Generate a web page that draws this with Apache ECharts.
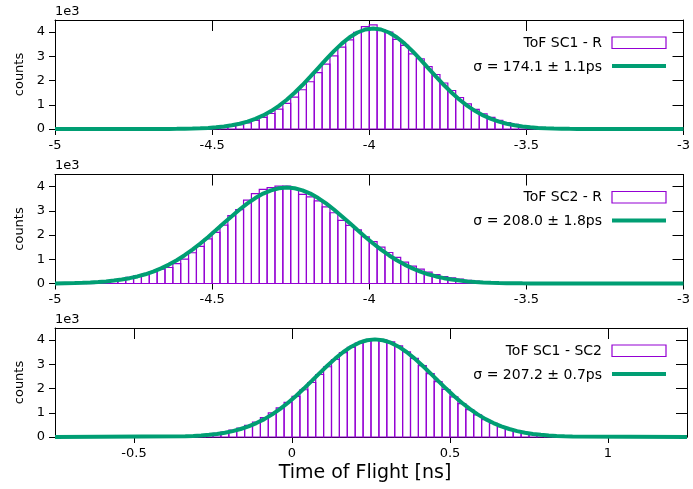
<!DOCTYPE html>
<html><head><meta charset="utf-8">
<script src="https://cdn.jsdelivr.net/npm/echarts@6/dist/echarts.min.js"></script>
<style>html,body{margin:0;padding:0;background:#fff}#c{width:693px;height:489px}</style>
</head><body><div id="c"></div>
<script>
// ---- data ----
const binWidth = 0.025;

const p1Edges = [-4.650,-4.625,-4.600,-4.575,-4.550,-4.525,-4.500,-4.475,-4.450,-4.425,-4.400,-4.375,-4.350,-4.325,-4.300,-4.275,-4.250,-4.225,-4.200,-4.175,-4.150,-4.125,-4.100,-4.075,-4.050,-4.025,-4.000,-3.975,-3.950,-3.925,-3.900,-3.875,-3.850,-3.825,-3.800,-3.775,-3.750,-3.725,-3.700,-3.675,-3.650,-3.625,-3.600,-3.575,-3.550,-3.525,-3.500,-3.475,-3.450,-3.425,-3.400,-3.375,-3.350];
const p1Counts = [3,5,9,14,22,35,55,85,125,180,255,350,480,640,820,1060,1320,1620,1950,2330,2680,3020,3380,3680,3990,4230,4300,4100,4000,3700,3450,3100,2900,2580,2250,1900,1590,1300,1040,810,630,480,360,265,190,135,95,65,44,30,20,12,8];
const p1Fit = [4,7,12,19,30,46,70,104,152,217,305,418,562,740,955,1207,1496,1816,2160,2517,2874,3215,3525,3786,3984,4108,4150,4108,3984,3786,3525,3215,2874,2517,2160,1816,1496,1207,955,740,562,418,305,217,152,104,70,46,30,19,12,7,4];

const p2Edges = [-4.950,-4.925,-4.900,-4.875,-4.850,-4.825,-4.800,-4.775,-4.750,-4.725,-4.700,-4.675,-4.650,-4.625,-4.600,-4.575,-4.550,-4.525,-4.500,-4.475,-4.450,-4.425,-4.400,-4.375,-4.350,-4.325,-4.300,-4.275,-4.250,-4.225,-4.200,-4.175,-4.150,-4.125,-4.100,-4.075,-4.050,-4.025,-4.000,-3.975,-3.950,-3.925,-3.900,-3.875,-3.850,-3.825,-3.800,-3.775,-3.750,-3.725,-3.700,-3.675,-3.650,-3.625,-3.600,-3.575,-3.550,-3.525,-3.500];
const p2Counts = [20,28,40,55,75,110,190,250,320,380,490,590,660,820,1010,1270,1530,1840,2110,2410,2800,3050,3440,3710,3890,3960,4020,4020,3920,3680,3580,3410,3160,2920,2610,2400,2220,1930,1730,1500,1280,1080,880,720,590,470,370,290,230,180,135,100,72,52,40,30,20,15,10];
const p2Fit = [20,30,43,62,87,120,164,220,292,381,491,623,780,961,1168,1399,1653,1923,2206,2494,2780,3054,3306,3528,3711,3847,3931,3960,3931,3847,3711,3528,3306,3054,2780,2494,2206,1923,1653,1399,1168,961,780,623,491,381,292,220,164,120,87,62,43,30,20,14,9,6,4];

const p3Edges = [-0.350,-0.325,-0.300,-0.275,-0.250,-0.225,-0.200,-0.175,-0.150,-0.125,-0.100,-0.075,-0.050,-0.025,0.000,0.025,0.050,0.075,0.100,0.125,0.150,0.175,0.200,0.225,0.250,0.275,0.300,0.325,0.350,0.375,0.400,0.425,0.450,0.475,0.500,0.525,0.550,0.575,0.600,0.625,0.650,0.675,0.700,0.725,0.750,0.775,0.800,0.825,0.850,0.875];
const p3Counts = [30,45,70,100,150,200,280,370,480,620,800,1000,1200,1430,1680,1950,2250,2580,2900,3200,3480,3700,3880,3990,4050,4010,3930,3760,3520,3250,2950,2620,2290,1960,1660,1380,1130,910,720,560,430,330,250,185,135,95,65,45,30,20];
const p3Fit = [28,41,61,89,126,177,244,330,439,575,739,933,1159,1414,1696,1999,2316,2637,2951,3246,3509,3728,3893,3995,4030,3995,3893,3728,3509,3246,2951,2637,2316,1999,1696,1414,1159,933,739,575,439,330,244,177,126,89,61,41,28,18];

const xRanges = [[-5, -3], [-5, -3], [-0.75, 1.25]];
const xTicks = [[-5, -4.5, -4, -3.5, -3], [-5, -4.5, -4, -3.5, -3], [-0.5, 0, 0.5, 1]];
const yTicks = [0, 1000, 2000, 3000, 4000];
const yMax = 4500;
const histLabels = ['ToF SC1 - R', 'ToF SC2 - R', 'ToF SC1 - SC2'];
const fitLabels = ['σ = 174.1 ± 1.1ps', 'σ = 208.0 ± 1.8ps', 'σ = 207.2 ± 0.7ps'];
const xTitle = 'Time of Flight [ns]';
const yTitle = 'counts';
const yUnit = '1e3';

// ---- layout / style ----
const panels = [
  {edges: p1Edges, counts: p1Counts, fit: p1Fit},
  {edges: p2Edges, counts: p2Counts, fit: p2Fit},
  {edges: p3Edges, counts: p3Counts, fit: p3Fit}
];
const gridTops = [20, 174.5, 328];
const gridH = 109, gridL = 55, gridW = 632;
const FONT = 'DejaVu Sans';
const PURPLE = '#9400D3', GREEN = '#009E73';

const grid = [], xAxis = [], yAxis = [], series = [], graphic = [];
panels.forEach((p, k) => {
  grid.push({left: gridL, top: gridTops[k], width: gridW, height: gridH, containLabel: false});
  const [xmin, xmax] = xRanges[k];
  const lineStyle = {color: '#000', width: 1};
  xAxis.push({
    type: 'value', gridIndex: k, min: xmin, max: xmax, position: 'bottom',
    axisLine: {show: true, onZero: false, lineStyle},
    axisTick: {show: true, inside: false, length: 6, customValues: xTicks[k], lineStyle},
    axisLabel: {show: true, customValues: xTicks[k], formatter: v => String(v), margin: 10,
      color: '#000', fontFamily: FONT, fontSize: 13},
    splitLine: {show: false},
    name: k === 2 ? xTitle : '', nameLocation: 'middle', nameGap: 27,
    nameTextStyle: {fontFamily: FONT, fontSize: 19, color: '#000', padding: [0, 12, 0, 0]}
  });
  xAxis.push({
    type: 'value', gridIndex: k, min: xmin, max: xmax, position: 'top',
    axisLine: {show: true, onZero: false, lineStyle},
    axisTick: {show: true, inside: true, length: 11, customValues: xTicks[k], lineStyle},
    axisLabel: {show: false}, splitLine: {show: false}
  });
  yAxis.push({
    type: 'value', gridIndex: k, min: 0, max: yMax, position: 'left',
    axisLine: {show: true, onZero: false, lineStyle},
    axisTick: {show: true, inside: false, length: 6, customValues: yTicks, lineStyle},
    axisLabel: {show: true, customValues: yTicks, formatter: v => String(v / 1000), margin: 10,
      color: '#000', fontFamily: FONT, fontSize: 13},
    splitLine: {show: false},
    name: yTitle, nameLocation: 'middle', nameGap: 29,
    nameTextStyle: {fontFamily: FONT, fontSize: 13, color: '#000'}
  });
  yAxis.push({
    type: 'value', gridIndex: k, min: 0, max: yMax, position: 'right',
    axisLine: {show: true, onZero: false, lineStyle},
    axisTick: {show: true, inside: true, length: 11, customValues: yTicks, lineStyle},
    axisLabel: {show: false}, splitLine: {show: false}
  });
  yAxis.push({
    type: 'value', gridIndex: k, min: 0, max: yMax, position: 'left',
    axisLine: {show: false, onZero: false}, axisTick: {show: false}, axisLabel: {show: false}, splitLine: {show: false},
    name: yUnit, nameLocation: 'end', nameGap: 2,
    nameTextStyle: {fontFamily: FONT, fontSize: 13, color: '#000', align: 'left', verticalAlign: 'bottom'}
  });

  series.push({
    type: 'custom', name: histLabels[k], xAxisIndex: 2 * k, yAxisIndex: 3 * k,
    data: p.edges.map((e, i) => [e, p.counts[i]]),
    renderItem: (params, api) => {
      const x0 = api.value(0), y = api.value(1);
      const a = api.coord([x0, 0]);
      const b = api.coord([x0 + binWidth, y]);
      return {type: 'rect', shape: {x: a[0], y: b[1], width: b[0] - a[0], height: a[1] - b[1]},
        style: {fill: 'none', stroke: PURPLE, lineWidth: 1.2}};
    },
    z: 2
  });
  series.push({
    type: 'line', name: fitLabels[k], xAxisIndex: 2 * k, yAxisIndex: 3 * k,
    data: [[xmin, 0]].concat(p.edges.map((e, i) => [e + binWidth / 2, p.fit[i]])).concat([[xmax, 0]]),
    showSymbol: false, symbol: 'none', clip: false,
    lineStyle: {color: GREEN, width: 4}, z: 3
  });

  const T = gridTops[k];
  graphic.push({type: 'text', x: 602, y: T + 23, style: {text: histLabels[k], align: 'right', verticalAlign: 'middle',
    font: '14px "DejaVu Sans"', fill: '#000'}});
  graphic.push({type: 'rect', shape: {x: 612, y: T + 17, width: 54, height: 11.5},
    style: {fill: '#fff', stroke: PURPLE, lineWidth: 1.2}});
  graphic.push({type: 'text', x: 602, y: T + 47, style: {text: fitLabels[k], align: 'right', verticalAlign: 'middle',
    font: '14px "DejaVu Sans"', fill: '#000'}});
  graphic.push({type: 'line', shape: {x1: 612, y1: T + 46, x2: 666, y2: T + 46},
    style: {stroke: GREEN, lineWidth: 4}});
});

const chart = echarts.init(document.getElementById('c'), null, {renderer: 'canvas'});
chart.setOption({
  animation: false,
  backgroundColor: '#fff',
  textStyle: {fontFamily: FONT, color: '#000'},
  grid, xAxis, yAxis, series, graphic
});
</script></body></html>
